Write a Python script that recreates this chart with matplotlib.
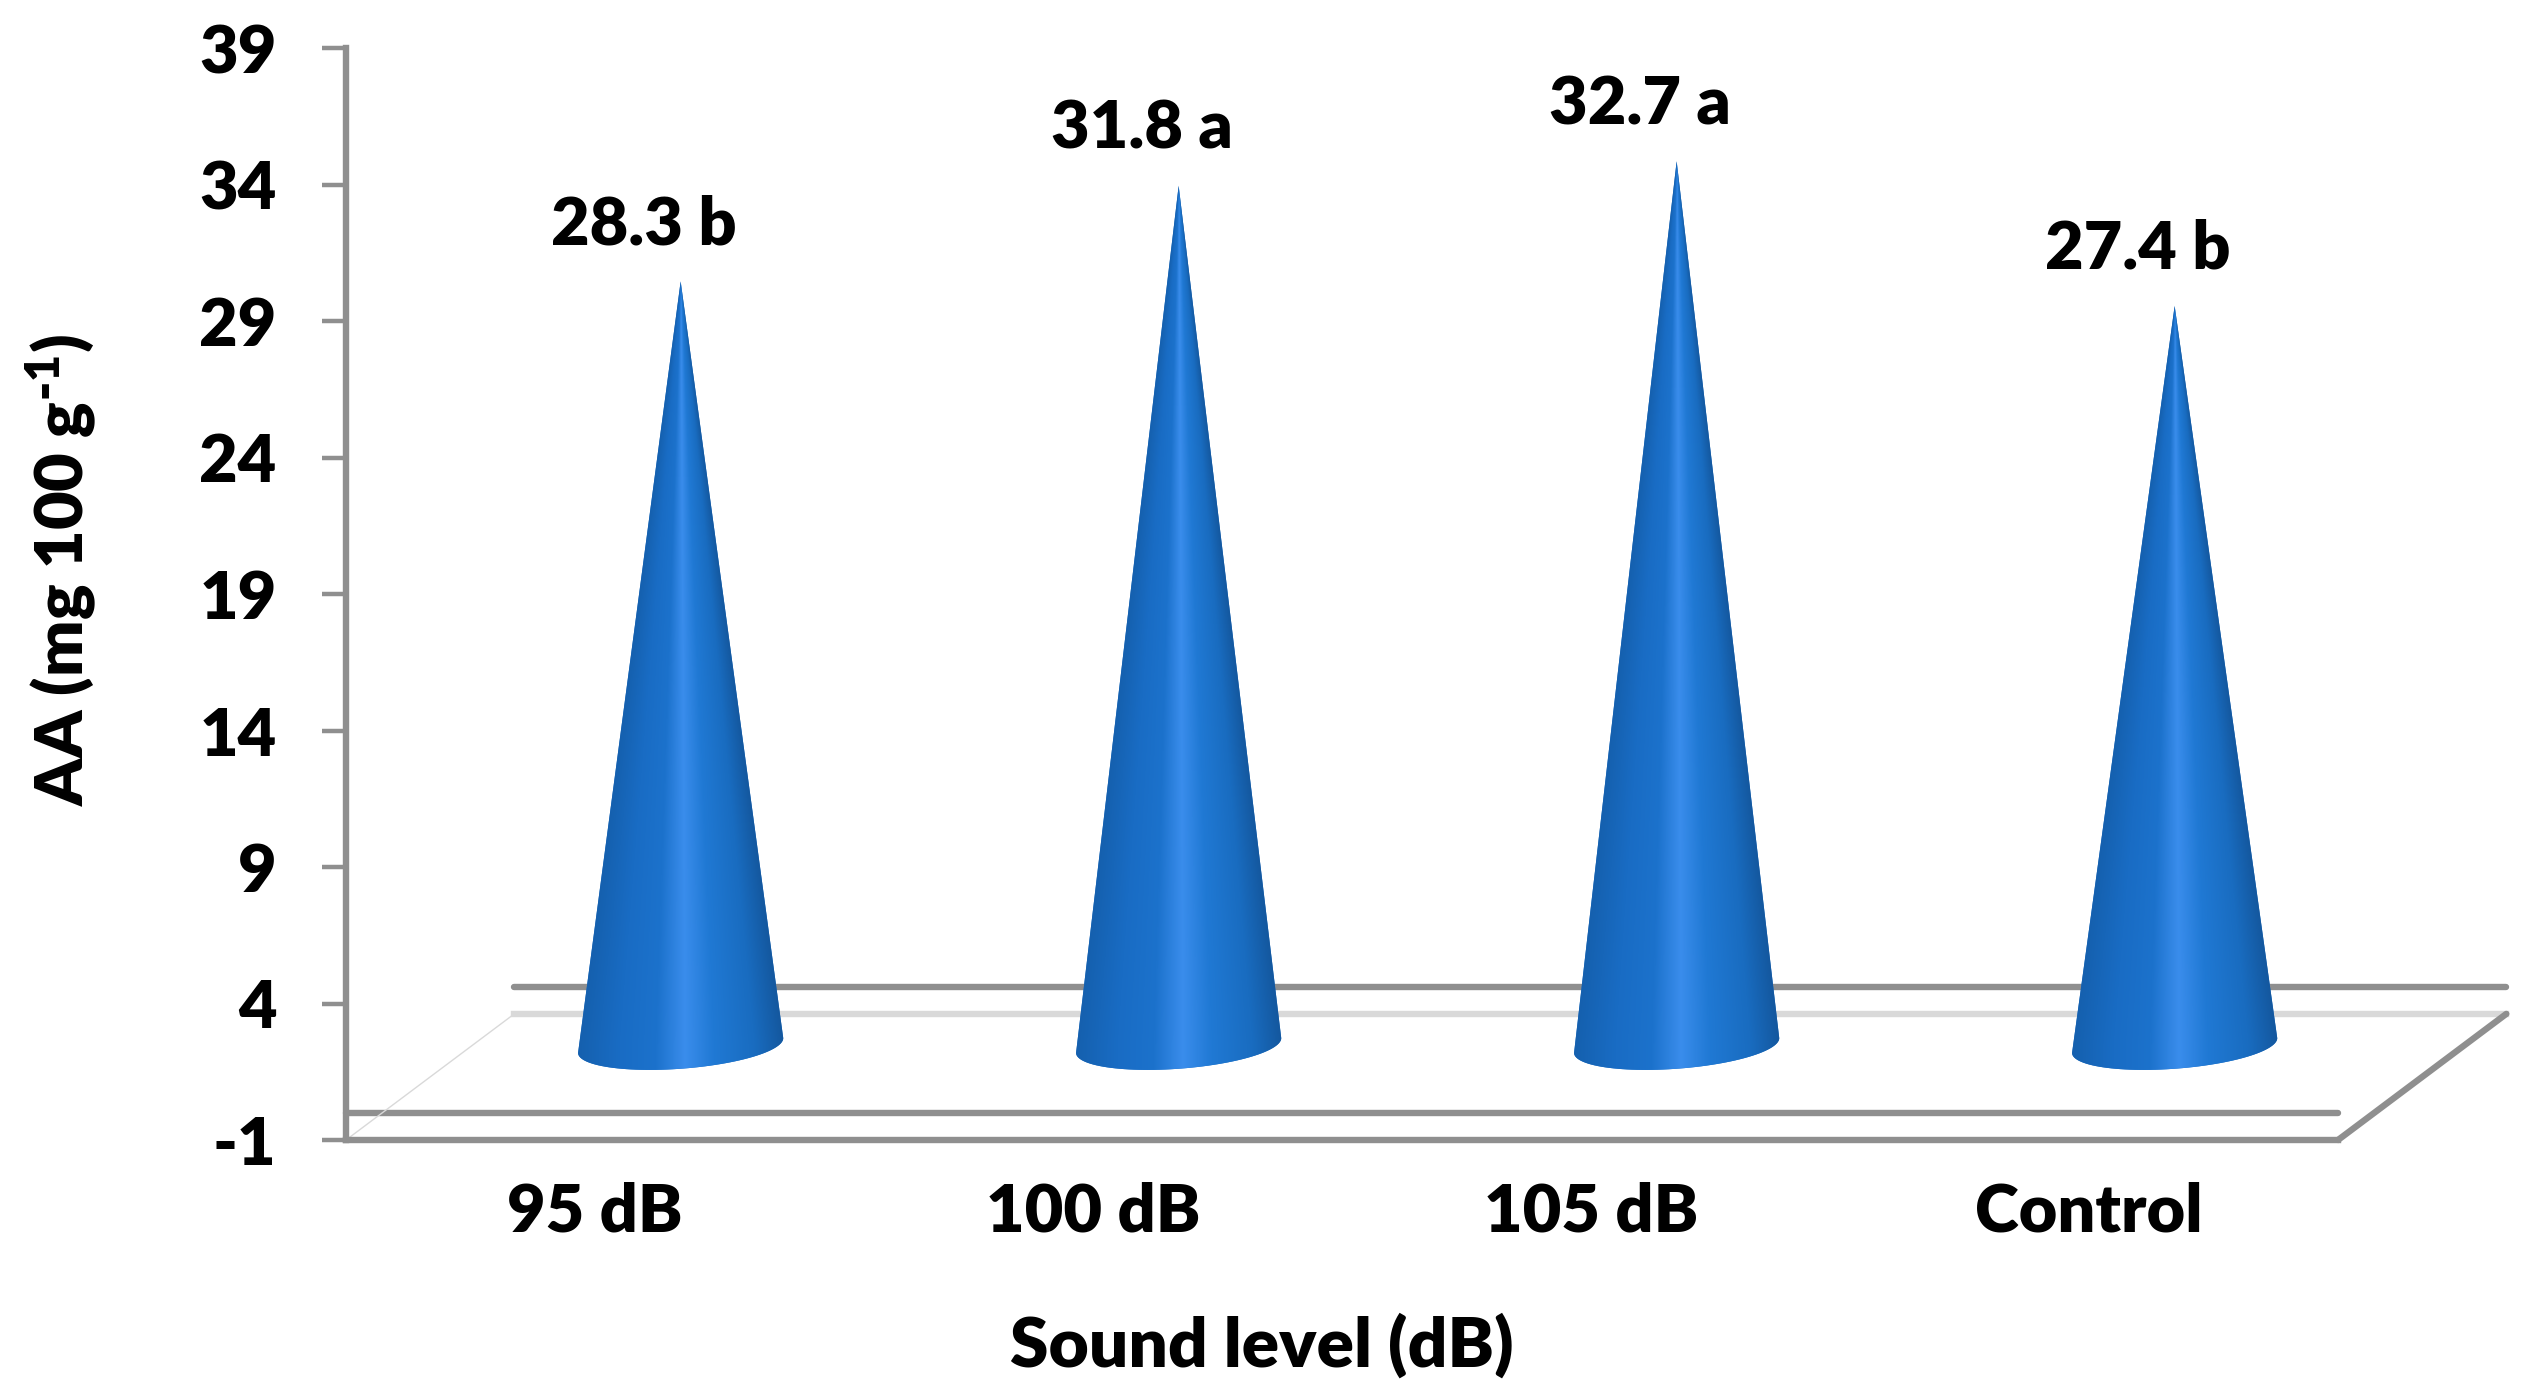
import numpy as np
import matplotlib
matplotlib.use("Agg")
import matplotlib.pyplot as plt
from matplotlib.colors import LinearSegmentedColormap
from matplotlib.path import Path
from matplotlib.patches import PathPatch

categories = ["95 dB", "100 dB", "105 dB", "Control"]
values = [28.3, 31.8, 32.7, 27.4]
letters = ["b", "a", "a", "b"]
yticks = [-1, 4, 9, 14, 19, 24, 29, 34, 39]

GREY = "#8f8f8f"
LIGHT = "#d9d9d9"
FS = 48
cone_cmap = LinearSegmentedColormap.from_list(
    "cone", [(0.0, "#1560ae"), (0.2, "#196cc4"), (0.38, "#1c72cc"), (0.52, "#3a8dec"),
             (0.66, "#2079d4"), (0.86, "#196cc0"), (1.0, "#14589f")])

plt.rcParams["font.family"] = ["Lato", "DejaVu Sans"]
plt.rcParams["font.weight"] = "heavy"
plt.rcParams["mathtext.default"] = "regular"

W, H = 2533, 1398
fig = plt.figure(figsize=(W / 100, H / 100), dpi=100, facecolor="white")
ax = fig.add_axes([346 / W, 1 - 1140 / H, (2338 - 346) / W, (1140 - 48) / H])

# depth of the fake 3d floor, in data units
depth_x = 0.338
depth_y = 4.62
cone_dx = 0.172
cone_dy = 2.15
half_width = 0.206
base_tilt = 0.27
base_round = 0.85

xpos = np.arange(len(values)) + 0.5

# floor and wall lines
ax.plot([0, 4], [0, 0], color=GREY, lw=4.6, solid_capstyle="round", clip_on=False, zorder=1)
ax.plot([depth_x, 4 + depth_x], [depth_y, depth_y], color=GREY, lw=4.6,
        solid_capstyle="round", clip_on=False, zorder=1)
ax.plot([depth_x, 4 + depth_x], [depth_y - 1, depth_y - 1], color=LIGHT, lw=4.6,
        clip_on=False, zorder=1)
ax.plot([0, depth_x], [-1, depth_y - 1], color=LIGHT, lw=1, clip_on=False, zorder=1)
ax.plot([4, 4 + depth_x], [-1, depth_y - 1], color=GREY, lw=4.6,
        solid_capstyle="round", clip_on=False, zorder=1)

for x, v, letter in zip(xpos, values, letters):
    xc = x + cone_dx
    y_base = 2.46
    y_tip = cone_dy + v

    # cone outline: tip, then round the bottom of the tilted base
    t = np.linspace(0, np.pi, 60)
    bx = xc - half_width * np.cos(t)
    by = y_base - base_round * np.sin(t) - base_tilt * np.cos(t)
    verts = np.vstack([[xc, y_tip], np.column_stack([bx[::-1], by[::-1]]), [xc, y_tip]])
    codes = [Path.MOVETO] + [Path.LINETO] * (len(verts) - 2) + [Path.CLOSEPOLY]
    patch = PathPatch(Path(verts, codes), fc="#1c70c8", ec="none", zorder=2)
    ax.add_patch(patch)

    # shading follows the taper of the cone
    gx = np.linspace(xc - half_width, xc + half_width, 500)
    gy = np.linspace(y_base - base_round - 0.1, y_tip, 900)
    xx, yy = np.meshgrid(gx, gy)
    hw = half_width * np.clip((y_tip - yy) / (y_tip - y_base), 0.002, 1)
    u = np.clip((xx - xc) / hw, -1, 1)
    im = ax.imshow(u, extent=[gx[0], gx[-1], gy[0], gy[-1]], origin="lower", cmap=cone_cmap,
                   vmin=-1, vmax=1, aspect="auto", zorder=3, interpolation="bilinear")
    im.set_clip_path(patch)

    ax.text(xc - 0.0744, y_tip + 2.07, f"{v} {letter}", ha="center", va="center",
            fontsize=FS, color="black", zorder=5)

ax.set_xlim(0, 4)
ax.set_ylim(-1, 39)
ax.set_xticks(xpos)
ax.set_xticklabels(categories)
ax.set_yticks(yticks)
ax.set_yticklabels([str(t) for t in yticks])

for side in ["top", "right"]:
    ax.spines[side].set_visible(False)
for side in ["left", "bottom"]:
    ax.spines[side].set_color(GREY)
    ax.spines[side].set_linewidth(4.6)
ax.tick_params(axis="y", length=17, width=3.2, color=GREY, pad=33, labelsize=FS)
ax.tick_params(axis="x", length=0, pad=30, labelsize=FS)

fig.text(781 * 1.6155 / W, 1 - 833 * 1.6155 / H, "Sound level (dB)", ha="center", va="center",
         fontsize=50)
fig.text(38 * 1.6155 / W, 1 - 353 * 1.6155 / H, r"AA (mg 100 g$^{\text{-}1}$)", ha="center", va="center",
         rotation=90, fontsize=FS)

fig.savefig("out.png", dpi=100, facecolor="white")
